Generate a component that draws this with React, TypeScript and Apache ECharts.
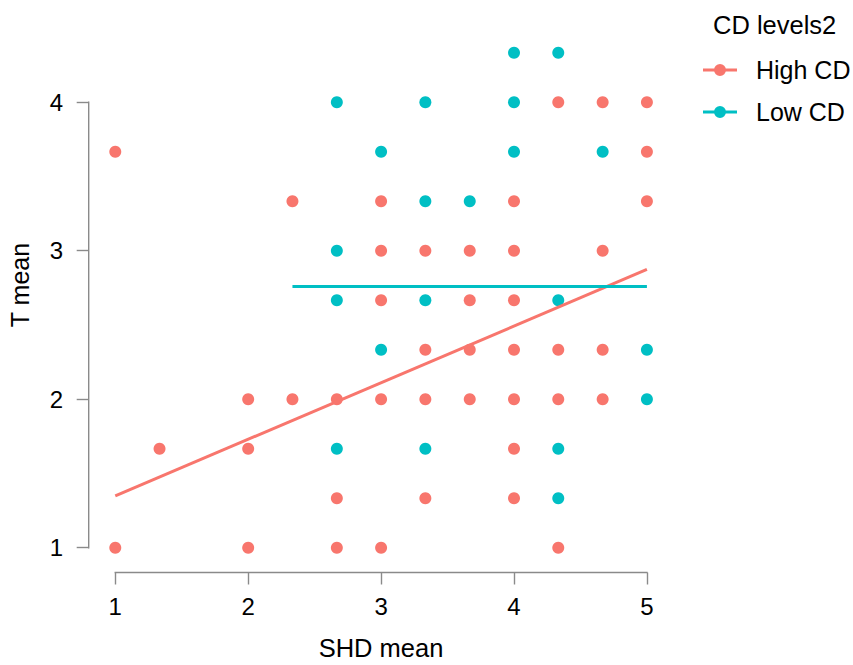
import React, { useEffect, useRef } from 'react';
import * as echarts from 'echarts';

// ---- data ----
const seriesNames = ['High CD', 'Low CD'];
const seriesColors = ['#F8766D', '#00BFC4'];

const highCD: [number, number][] = [
  [1, 3.667], [1, 1], [1.333, 1.667], [2, 2], [2, 1.667], [2, 1],
  [2.333, 3.333], [2.333, 2], [2.667, 2], [2.667, 1.333], [2.667, 1],
  [3, 3.333], [3, 3], [3, 2.667], [3, 2], [3, 1],
  [3.333, 3], [3.333, 2.333], [3.333, 2], [3.333, 1.333],
  [3.667, 3], [3.667, 2.667], [3.667, 2.333], [3.667, 2],
  [4, 3.333], [4, 3], [4, 2.667], [4, 2.333], [4, 2], [4, 1.667], [4, 1.333],
  [4.333, 4], [4.333, 2.333], [4.333, 2], [4.333, 1],
  [4.667, 4], [4.667, 3], [4.667, 2.333], [4.667, 2],
  [5, 4], [5, 3.667], [5, 3.333],
];

const lowCD: [number, number][] = [
  [2.667, 4], [2.667, 3], [2.667, 2.667], [2.667, 1.667],
  [3, 3.667], [3, 2.333],
  [3.333, 4], [3.333, 3.333], [3.333, 2.667], [3.333, 1.667],
  [3.667, 3.333],
  [4, 4.333], [4, 4], [4, 3.667],
  [4.333, 4.333], [4.333, 2.667], [4.333, 1.667], [4.333, 1.333],
  [4.667, 3.667],
  [5, 2.333], [5, 2],
];

const highFit: [number, number][] = [[1, 1.349], [5, 2.874]];
const lowFit: [number, number][] = [[2.333, 2.759], [5, 2.759]];

const xTicks = [1, 2, 3, 4, 5];
const yTicks = [1, 2, 3, 4];

const legendTitle = 'CD levels2';
const xTitle = 'SHD mean';
const yTitle = 'T mean';

// ---- layout ----
const X_MIN = 0.8;
const X_MAX = 5.2;
const Y_MIN = 0.8333;
const Y_MAX = 4.5;
const FONT = '"Liberation Sans", Arial, Helvetica, sans-serif';
const AXIS_GRAY = '#8a8a8a';

const legendIcon =
  'path://M0,4.5H34V7.5H0Z M11,6A6,6 0 1 1 23,6A6,6 0 1 1 11,6Z';

export default function App() {
  const ref = useRef<HTMLDivElement>(null);

  useEffect(() => {
    if (!ref.current) return;
    const chart = echarts.init(ref.current, undefined, { renderer: 'svg' });

    const option: any = {
      animation: false,
      backgroundColor: '#ffffff',
      grid: {
        left: 88.7,
        top: 28,
        width: 584.8,
        height: 544.5,
        containLabel: false,
        outerBoundsMode: 'none',
      },
      xAxis: {
        type: 'value',
        min: X_MIN,
        max: X_MAX,
        axisLine: { show: false },
        splitLine: { show: false },
        axisTick: {
          show: true,
          customValues: xTicks,
          length: 12,
          lineStyle: { color: AXIS_GRAY, width: 1.4 },
        },
        axisLabel: {
          customValues: xTicks,
          margin: 22,
          fontSize: 24,
          color: '#000',
          fontFamily: FONT,
        },
      },
      yAxis: {
        type: 'value',
        min: Y_MIN,
        max: Y_MAX,
        axisLine: { show: false },
        splitLine: { show: false },
        axisTick: {
          show: true,
          customValues: yTicks,
          length: 12,
          lineStyle: { color: AXIS_GRAY, width: 1.4 },
        },
        axisLabel: {
          customValues: yTicks,
          margin: 25.5,
          fontSize: 24,
          color: '#000',
          fontFamily: FONT,
        },
      },
      legend: {
        orient: 'vertical',
        left: 703,
        top: 57.5,
        padding: 0,
        itemWidth: 34,
        itemHeight: 12,
        itemGap: 17,
        selectedMode: false,
        data: seriesNames.map((n) => ({ name: n, icon: legendIcon })),
        textStyle: {
          fontSize: 25,
          color: '#000',
          fontFamily: FONT,
          padding: [0, 0, 0, 14],
        },
      },
      graphic: [
        {
          type: 'text',
          x: 713,
          y: 25,
          style: {
            text: legendTitle,
            fontSize: 25.5,
            fontFamily: FONT,
            fill: '#000',
            align: 'left',
            verticalAlign: 'middle',
          },
        },
        {
          type: 'text',
          x: 381,
          y: 648,
          style: {
            text: xTitle,
            fontSize: 25.5,
            fontFamily: FONT,
            fill: '#000',
            align: 'center',
            verticalAlign: 'middle',
          },
        },
        {
          type: 'text',
          x: 20,
          y: 285,
          rotation: Math.PI / 2,
          style: {
            text: yTitle,
            fontSize: 25,
            fontFamily: FONT,
            fill: '#000',
            align: 'center',
            verticalAlign: 'middle',
          },
        },
      ],
      series: [
        {
          name: 'axis-x-line',
          type: 'line',
          data: [[xTicks[0], Y_MIN], [xTicks[xTicks.length - 1], Y_MIN]],
          symbol: 'none',
          clip: false,
          silent: true,
          lineStyle: { color: AXIS_GRAY, width: 1.4, cap: 'square' },
          z: 1,
        },
        {
          name: 'axis-y-line',
          type: 'line',
          data: [[X_MIN, yTicks[0]], [X_MIN, yTicks[yTicks.length - 1]]],
          symbol: 'none',
          clip: false,
          silent: true,
          lineStyle: { color: AXIS_GRAY, width: 1.4, cap: 'square' },
          z: 1,
        },
        {
          name: seriesNames[0],
          type: 'scatter',
          data: highCD,
          symbol: 'circle',
          symbolSize: 12,
          itemStyle: { color: seriesColors[0], opacity: 1 },
          z: 2,
        },
        {
          name: seriesNames[1],
          type: 'scatter',
          data: lowCD,
          symbol: 'circle',
          symbolSize: 12,
          itemStyle: { color: seriesColors[1], opacity: 1 },
          z: 2,
        },
        {
          name: seriesNames[0],
          type: 'line',
          data: highFit,
          symbol: 'none',
          silent: true,
          lineStyle: { color: seriesColors[0], width: 3 },
          itemStyle: { color: seriesColors[0] },
          z: 3,
        },
        {
          name: seriesNames[1],
          type: 'line',
          data: lowFit,
          symbol: 'none',
          silent: true,
          lineStyle: { color: seriesColors[1], width: 3 },
          itemStyle: { color: seriesColors[1] },
          z: 3,
        },
      ],
    };

    chart.setOption(option);
    return () => {
      chart.dispose();
    };
  }, []);

  return (
    <div
      ref={ref}
      style={{ position: 'absolute', left: 0, top: 0, width: 853, height: 665 }}
    />
  );
}
